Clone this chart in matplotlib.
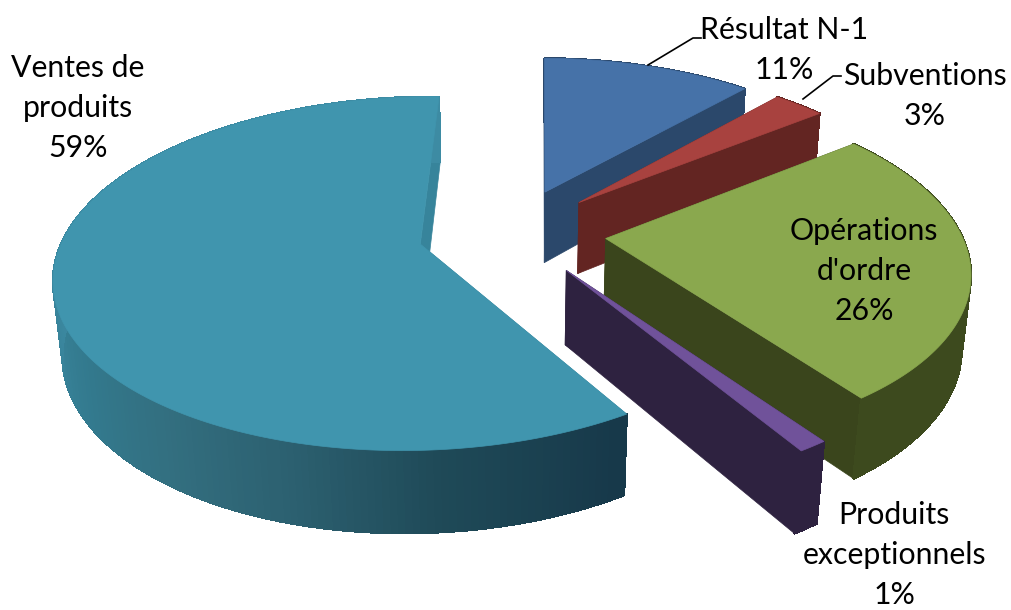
# -*- coding: utf-8 -*-
import numpy as np
import matplotlib
matplotlib.use('Agg')
import matplotlib.pyplot as plt
from matplotlib.colors import to_rgb
from matplotlib.patches import Polygon

# chart data, clockwise from the top of the pie
categories = ['Résultat N-1', 'Subventions', "Opérations\nd'ordre", 'Produits\nexceptionnels', 'Ventes de\nproduits']
values = [11.4, 2.9, 25.6, 1.0, 59.1]

# look of each slice
top_colors = ['#4672a8', '#a8423f', '#8aa84e', '#70529a', '#4095ae']
cut_colors = ['#2b486b', '#632522', '#3a451c', '#2e2240', '#37849b']
side_colors = ['#2b486b', '#632522', '#3d4a1e', '#2e2240', '#1a3f4c']
label_pos = [(784, 50), (925, 96), (864, 271), (894, 555), (78, 108)]

# projection of the pie plane onto the picture
CX, CY = 512, 232
SCALE_X, SCALE_Y = 355, 168
PERSP, PERSP_DEPTH = 0.165, 0.02
DEPTH = 74
EXPLODE = 0.265
START = 0.8

# side shade of the big slice: angle -> colour
ventes_angles = [150, 175, 195, 215, 235, 255, 275]
ventes_shades = ['#17394a', '#1f4a58', '#2c6070', '#336f80', '#337a8e', '#38839a', '#3d8ba3']


def project(x, y, d=0.0):
    w = 1 + PERSP * y + PERSP_DEPTH * d
    return CX + SCALE_X * x / w, CY - SCALE_Y * y / w + DEPTH * d / w


def shade(angle):
    rgb = np.array([to_rgb(c) for c in ventes_shades])
    return [np.interp(angle, ventes_angles, rgb[:, i]) for i in range(3)]


def draw_slice(ax, a0, a1, idx):
    mid = np.radians((a0 + a1) / 2)
    ox, oy = EXPLODE * np.sin(mid), EXPLODE * np.cos(mid)
    angles = np.arange(a0, a1 + 0.5, 1.0)
    rim_x = ox + np.sin(np.radians(angles))
    rim_y = oy + np.cos(np.radians(angles))

    # the two cut faces first, they are the furthest parts
    for k in (0, -1):
        pts = [project(ox, oy), project(rim_x[k], rim_y[k]),
               project(rim_x[k], rim_y[k], 1), project(ox, oy, 1)]
        ax.add_patch(Polygon(pts, fc=cut_colors[idx], ec=cut_colors[idx], lw=0.5))

    # outer wall in small strips so that it can carry a gradient
    for j in range(len(angles) - 1):
        pts = [project(rim_x[j], rim_y[j]), project(rim_x[j + 1], rim_y[j + 1]),
               project(rim_x[j + 1], rim_y[j + 1], 1), project(rim_x[j], rim_y[j], 1)]
        col = shade(angles[j]) if idx == 4 else side_colors[idx]
        ax.add_patch(Polygon(pts, fc=col, ec=col, lw=1.0, antialiased=False))

    top = [project(ox, oy)] + [project(x, y) for x, y in zip(rim_x, rim_y)]
    ax.add_patch(Polygon(top, fc=top_colors[idx], ec=top_colors[idx], lw=0.5))


plt.rcParams['font.family'] = ['Lato', 'DejaVu Sans']

fig = plt.figure(figsize=(10.11, 6.10), dpi=100)
ax = fig.add_axes([0, 0, 1, 1])
ax.set_xlim(0, 1011)
ax.set_ylim(610, 0)
ax.axis('off')

total = sum(values)
a = START
for i, v in enumerate(values):
    sweep = v / total * 360
    draw_slice(ax, a, a + sweep, i)
    a += sweep

# leader lines of the two small labels
ax.plot([648, 693, 701], [65, 38, 38], color='black', lw=1.2)
ax.plot([803, 833, 841], [99, 76, 76], color='black', lw=1.2)

for name, v, (x, y) in zip(categories, values, label_pos):
    ax.text(x, y, f'{name}\n{round(v)}%', ha='center', va='center', fontsize=21.8,
            linespacing=1.53, color='black')

plt.savefig('out.png', dpi=100)
